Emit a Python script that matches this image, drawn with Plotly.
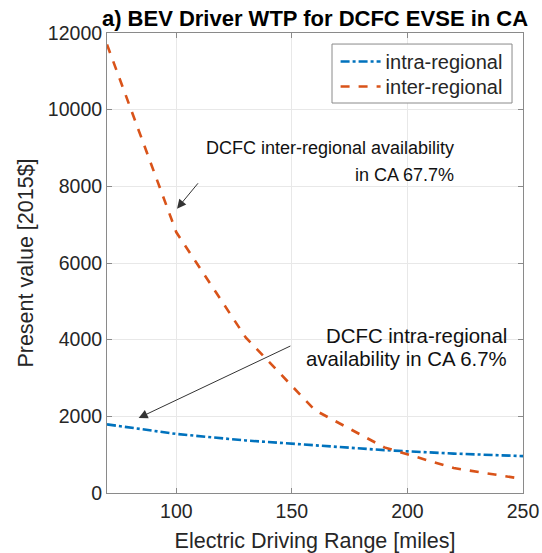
import plotly.graph_objects as go

# Data
ranges = [70, 100, 130, 160, 190, 220, 250]
intra_regional = [1790, 1540, 1370, 1240, 1118, 1028, 962]
inter_regional = [11700, 6800, 4060, 2160, 1190, 650, 365]

x_ticks = [100, 150, 200, 250]
y_ticks = [0, 2000, 4000, 6000, 8000, 10000, 12000]

FONT = "Liberation Sans, Arial, Helvetica, sans-serif"
TXT = "#262626"
AX = "#8a8a8a"

fig = go.Figure()
fig.add_trace(go.Scatter(
    x=ranges, y=intra_regional, mode="lines", name="intra-regional",
    line=dict(color="#0072BD", width=2.6, dash="dashdot"), legend="legend",
))
fig.add_trace(go.Scatter(
    x=ranges, y=inter_regional, mode="lines", name="inter-regional",
    line=dict(color="#D95319", width=2.6, dash="dash"), legend="legend2",
))

axis_common = dict(
    showline=True, linecolor=AX, linewidth=1, mirror="allticks",
    ticks="inside", ticklen=5, tickcolor=AX, tickwidth=1,
    showgrid=True, gridcolor="#e8e8e8", gridwidth=1, zeroline=False,
    tickfont=dict(family=FONT, size=19.5, color=TXT), automargin=False,
)

fig.update_xaxes(
    range=[70, 250], tickvals=x_ticks, ticklabelstandoff=1,
    title=dict(text="Electric Driving Range [miles]", font=dict(family=FONT, size=21.5, color=TXT), standoff=12),
    **axis_common,
)
fig.update_yaxes(
    range=[0, 12000], tickvals=y_ticks, tickformat="d",
    title=dict(text="Present value [2015$]", font=dict(family=FONT, size=21.5, color=TXT), standoff=8),
    **axis_common,
)

# Annotation texts (one per line)
def note(x, y, text, size):
    fig.add_annotation(
        x=x, y=y, xref="x", yref="y", showarrow=False, text=text,
        xanchor="right", yanchor="middle",
        font=dict(family=FONT, size=size, color="#111111"),
    )

note(221.0, 9000, "DCFC inter-regional availability", 18)
note(221.0, 8296, "in CA 67.7%", 18)
note(244.0, 4096, "DCFC intra-regional", 20.4)
note(244.0, 3496, "availability in CA 6.7%", 20.4)

# Arrows
fig.add_annotation(
    x=100.3, y=7418, ax=109.9, ay=8118, xref="x", yref="y", axref="x", ayref="y",
    text="", showarrow=True, arrowhead=2, arrowsize=1.8, arrowwidth=1, arrowcolor="#333333",
)
fig.add_annotation(
    x=83.7, y=1958, ax=150, ay=3853, xref="x", yref="y", axref="x", ayref="y",
    text="", showarrow=True, arrowhead=2, arrowsize=1.8, arrowwidth=1, arrowcolor="#333333",
)

# Legend frame
fig.add_shape(
    type="rect", xref="paper", yref="paper",
    x0=0.5409, x1=0.9736, y0=0.8478, y1=0.976,
    line=dict(color=AX, width=1), fillcolor="white", layer="above",
)

leg_common = dict(
    xanchor="left", yanchor="top", bgcolor="rgba(0,0,0,0)", borderwidth=0,
    font=dict(family=FONT, size=20, color=TXT), itemwidth=40,
)

fig.update_layout(
    width=542, height=553,
    margin=dict(l=107, r=19, t=33, b=60, autoexpand=False),
    paper_bgcolor="white", plot_bgcolor="white",
    title=dict(
        text="<b>a) BEV Driver WTP for DCFC EVSE in CA</b>",
        font=dict(family=FONT, size=22, color="#000000"),
        x=0.5, xref="paper", xanchor="center",
        y=1 - 18 / 553, yref="container", yanchor="middle",
    ),
    legend=dict(x=0.5495, y=0.9805, **leg_common),
    legend2=dict(x=0.5495, y=0.926, **leg_common),
    showlegend=True,
)

fig.write_html("out.html")
